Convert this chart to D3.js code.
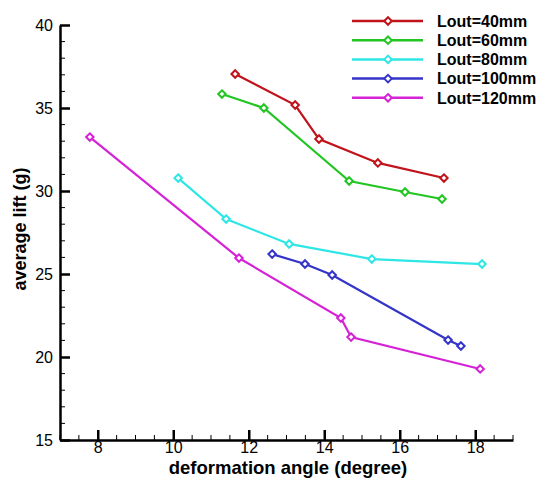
<!DOCTYPE html>
<html>
<head>
<meta charset="utf-8">
<title>average lift vs deformation angle</title>
<style>
  body { margin: 0; background: #fff; }
  text { font-family: "Liberation Sans", Arial, sans-serif; }
</style>
<script src="https://d3js.org/d3.v7.min.js"></script>
</head>
<body>
<svg width="539" height="479"></svg>
<script>
// data
var seriesNames = ["Lout=40mm", "Lout=60mm", "Lout=80mm", "Lout=100mm", "Lout=120mm"];
var seriesColors = ["#c0131b", "#22c522", "#2ee6e6", "#3434c8", "#d622d6"];
var angle40 = [11.64, 13.23, 13.86, 15.42, 17.17];
var lift40 = [37.05, 35.18, 33.13, 31.69, 30.78];
var angle60 = [11.29, 12.40, 14.66, 16.14, 17.12];
var lift60 = [35.84, 35.0, 30.6, 29.94, 29.52];
var angle80 = [10.13, 11.40, 13.07, 15.26, 18.18];
var lift80 = [30.78, 28.31, 26.81, 25.90, 25.60];
var angle100 = [12.62, 13.49, 14.21, 17.28, 17.62];
var lift100 = [26.2, 25.6, 24.94, 21.02, 20.66];
var angle120 = [7.79, 11.74, 14.44, 14.71, 18.13];
var lift120 = [33.25, 25.96, 22.35, 21.2, 19.28];
var xTicks = [8, 10, 12, 14, 16, 18];
var yTicks = [15, 20, 25, 30, 35, 40];

var allAngles = [angle40, angle60, angle80, angle100, angle120];
var allLifts = [lift40, lift60, lift80, lift100, lift120];
var series = seriesNames.map(function(name, i){
  return {name: name, color: seriesColors[i],
    values: allAngles[i].map(function(a, j){ return {x: a, y: allLifts[i][j]}; })};
});

var svg = d3.select("svg"),
    margin = {left: 60, top: 25, right: 26, bottom: 39},
    width = 539 - margin.left - margin.right,
    height = 479 - margin.top - margin.bottom,
    g = svg.append("g").attr("transform", `translate(${margin.left},${margin.top})`);

var x = d3.scaleLinear().domain([7, 19]).range([0, width]);
var y = d3.scaleLinear().domain([15, 40]).range([height, 0]);

// minor ticks
var xMinor = d3.range(7, 19.01, 0.5).filter(d => xTicks.indexOf(d) < 0);
var yMinor = d3.range(15, 40.01, 1).filter(d => yTicks.indexOf(d) < 0);

g.selectAll(".xminor").data(xMinor).enter().append("line")
  .attr("x1", d => x(d)).attr("x2", d => x(d))
  .attr("y1", height).attr("y2", height - 5)
  .attr("stroke", "#000").attr("stroke-width", 1);
g.selectAll(".yminor").data(yMinor).enter().append("line")
  .attr("x1", 0).attr("x2", 5)
  .attr("y1", d => y(d)).attr("y2", d => y(d))
  .attr("stroke", "#000").attr("stroke-width", 1);

// x axis
var xAxis = g.append("g").attr("transform", `translate(0,${height})`)
  .call(d3.axisBottom(x).tickValues(xTicks).tickSizeInner(-10).tickSizeOuter(0).tickPadding(2));
xAxis.select(".domain").attr("stroke-width", 2.5);
xAxis.selectAll(".tick line").attr("stroke-width", 2.5);
xAxis.selectAll("text").attr("font-size", 16).attr("fill", "#000")
  .style("font-family", "Liberation Sans, Arial, sans-serif");

// y axis
var yAxis = g.append("g")
  .call(d3.axisLeft(y).tickValues(yTicks).tickSizeInner(-10).tickSizeOuter(0).tickPadding(7));
yAxis.select(".domain").attr("stroke-width", 2.5);
yAxis.selectAll(".tick line").attr("stroke-width", 2.5);
yAxis.selectAll("text").attr("font-size", 16).attr("fill", "#000")
  .style("font-family", "Liberation Sans, Arial, sans-serif");

// axis titles
svg.append("text")
  .attr("x", 288).attr("y", 474)
  .attr("text-anchor", "middle")
  .attr("font-size", 18.5).attr("font-weight", "bold")
  .text("deformation angle (degree)");
svg.append("text")
  .attr("transform", "translate(26,229) rotate(-90)")
  .attr("text-anchor", "middle")
  .attr("font-size", 18).attr("font-weight", "bold")
  .text("average lift (g)");

// lines and markers
var line = d3.line().x(d => x(d.x)).y(d => y(d.y));
var diamond = d3.symbol().type(d3.symbolDiamond2).size(36);

var layer = g.selectAll(".series").data(series).enter().append("g");
layer.append("path")
  .attr("d", d => line(d.values))
  .attr("fill", "none")
  .attr("stroke", d => d.color)
  .attr("stroke-width", 2.2);
layer.each(function(s){
  d3.select(this).selectAll("path.pt").data(s.values).enter().append("path")
    .attr("class", "pt")
    .attr("d", diamond)
    .attr("transform", d => `translate(${x(d.x)},${y(d.y)})`)
    .attr("fill", "#fff")
    .attr("stroke", s.color)
    .attr("stroke-width", 2);
});

// legend
var legend = svg.append("g").attr("transform", "translate(352,21)");
var item = legend.selectAll("g").data(series).enter().append("g")
  .attr("transform", (d, i) => `translate(0,${i * 19.2})`);
item.append("line")
  .attr("x1", 0).attr("x2", 71)
  .attr("stroke", d => d.color).attr("stroke-width", 2.5);
item.append("path")
  .attr("d", diamond)
  .attr("transform", "translate(36,0)")
  .attr("fill", "#fff")
  .attr("stroke", d => d.color).attr("stroke-width", 2);
item.append("text")
  .attr("x", 85).attr("dy", "0.36em")
  .attr("font-size", 16).attr("font-weight", "bold")
  .text(d => d.name);
</script>
</body>
</html>
